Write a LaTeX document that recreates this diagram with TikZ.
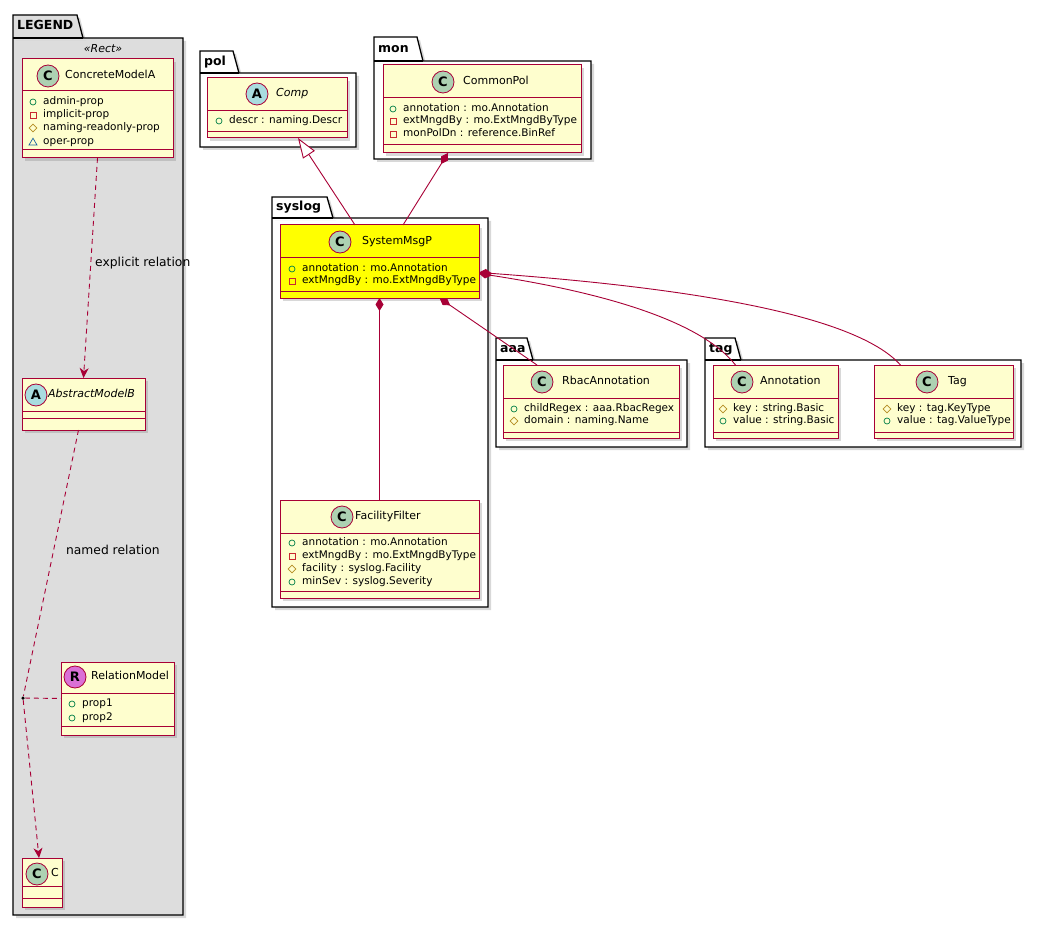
\documentclass[tikz,border=0pt]{standalone}
\usepackage{fontspec}
\setmainfont{DejaVu Sans}
\usetikzlibrary{arrows.meta,shadows}
\definecolor{umlred}{HTML}{A80036}
\definecolor{clsfill}{HTML}{FEFECE}
\definecolor{cgreen}{HTML}{ADD1B2}
\definecolor{ablue}{HTML}{A9DCDF}
\definecolor{rpink}{HTML}{DA70D6}
\definecolor{pkggray}{HTML}{DDDDDD}
\definecolor{pubgreen}{HTML}{038048}
\definecolor{privred}{HTML}{C82930}
\definecolor{protgold}{HTML}{B38D22}
\definecolor{pkgblue}{HTML}{1963A0}
\definecolor{hilite}{HTML}{FFFF00}

% package: name, x0, tab top, tab right, tab bottom, x1, y1, fill, title
\newcommand{\umlpkg}[9]{%
  \draw[pkgframe, fill=#8] (#2,#3) -- (#4,#3) -- ({#4+6},#5) -- (#6,#5) -- (#6,#7) -- (#2,#7) -- cycle;
  \draw[pkgframe] (#2,#5) -- ({#4+6},#5);
  \node[pkgtitle] (#1) at ({#2+4},{(#3+#5)/2}) {#9};
}
% class box: name, x1, y1, x2, y2, header rule, method rule, fill
\newcommand{\umlcls}[8]{%
  \node[clsbox, fill=#8, minimum width={#4-#2}, minimum height={#5-#3}] (#1) at (#2,#3) {};
  \draw[clsrule] (#2,#6) -- (#4,#6);
  \draw[clsrule] (#2,#7) -- (#4,#7);
}
% class header: prefix, badge x, y, letter, badge colour, title x, title
\newcommand{\umlhead}[7]{%
  \node[badge, fill=#5] (#1b) at (#2,#3) {#4};
  \node[clsname] (#1t) at (#6,#3) {#7};
}
% attributes: name, icon x, y, text
\newcommand{\apub}[4]{%
  \draw[pubgreen, line width=0.7pt] (#2,#3) circle[radius=3pt];
  \node[attrtext] (#1) at ({#2+10},#3) {#4};
}
\newcommand{\apriv}[4]{%
  \draw[privred, line width=0.7pt] ({#2-3},{#3-3}) rectangle ({#2+3},{#3+3});
  \node[attrtext] (#1) at ({#2+10},#3) {#4};
}
\newcommand{\aprot}[4]{%
  \draw[protgold, line width=0.7pt] (#2,{#3-3.8}) -- ({#2+3.8},#3) -- (#2,{#3+3.8}) -- ({#2-3.8},#3) -- cycle;
  \node[attrtext] (#1) at ({#2+10},#3) {#4};
}
\newcommand{\apkg}[4]{%
  \draw[pkgblue, line width=0.7pt] (#2,{#3-3.8}) -- ({#2+4},{#3+3}) -- ({#2-4},{#3+3}) -- cycle;
  \node[attrtext] (#1) at ({#2+10},#3) {#4};
}

\begin{document}
\begin{tikzpicture}[x=1pt, y=-1pt,
  pkgframe/.style={draw=black, line width=1.3pt,
    drop shadow={shadow xshift=3pt, shadow yshift=-3pt, opacity=0.3}},
  pkgtitle/.style={anchor=west, inner sep=0, text height=9pt, text depth=2.5pt,
    font=\bfseries\fontsize{12.5}{14}\selectfont},
  clsbox/.style={draw=umlred, line width=1pt, rectangle, anchor=north west,
    inner sep=0, outer sep=0,
    drop shadow={shadow xshift=3pt, shadow yshift=-3pt, opacity=0.3}},
  clsrule/.style={draw=umlred, line width=1pt},
  badge/.style={circle, draw=umlred, line width=0.8pt, minimum size=22pt, inner sep=0,
    font=\bfseries\fontsize{13}{13}\selectfont},
  clsname/.style={anchor=west, inner sep=0, text height=8pt, text depth=2.3pt,
    font=\fontsize{11}{13}\selectfont},
  attrtext/.style={anchor=west, inner sep=0, text height=7.5pt, text depth=2pt,
    font=\fontsize{10.5}{12}\selectfont},
  stereo/.style={inner sep=0, font=\itshape\fontsize{11}{13}\selectfont},
  lbl/.style={inner sep=0, anchor=west, text=black, font=\fontsize{12.3}{14}\selectfont},
  dep/.style={umlred, line width=0.9pt, dash pattern=on 5pt off 4pt,
    -{Stealth[length=10pt, width=9pt, inset=3pt]}},
  depline/.style={umlred, line width=0.9pt, dash pattern=on 5pt off 4pt},
  inherit/.style={umlred, line width=0.9pt,
    -{Triangle[length=20pt, width=14pt, fill=white]}},
  compo/.style={umlred, line width=0.9pt, {Diamond[length=13pt, width=8pt]}-}
]
\fill[white] (0,0) rectangle (1041,925);
\useasboundingbox (0,0) rectangle (1041,925);

% packages
\umlpkg{legend}{13}{15}{77}{38}{183}{915}{pkggray}{LEGEND}
\node[stereo] (rectst) at (103,49) {«Rect»};
\umlpkg{pol}{200}{51}{233}{73}{356}{147}{white}{pol}
\umlpkg{mon}{374}{37}{417}{61}{591}{159}{white}{mon}
\umlpkg{syslog}{272}{197}{327}{218}{488}{607}{white}{syslog}
\umlpkg{aaa}{496}{338}{527}{360}{687}{447}{white}{aaa}
\umlpkg{tag}{705}{338}{735}{360}{1021}{447}{white}{tag}

% legend classes
\umlcls{concrete}{22}{59}{173}{158}{91}{150}{clsfill}
\umlhead{concrete}{48}{76}{C}{cgreen}{65}{ConcreteModelA}
\apub{ca1}{33}{102}{admin-prop}
\apriv{ca2}{33}{115}{implicit-prop}
\aprot{ca3}{33}{128}{naming-readonly-prop}
\apkg{ca4}{33}{142}{oper-prop}

\umlcls{abstract}{22}{378}{145}{430}{411}{418}{clsfill}
\umlhead{abstract}{36}{395}{A}{ablue}{48}{\itshape AbstractModelB}

\umlcls{relmodel}{61}{662}{174}{735}{693}{726}{clsfill}
\umlhead{relmodel}{75}{677}{R}{rpink}{91}{RelationModel}
\apub{rm1}{72}{704}{prop1}
\apub{rm2}{72}{718}{prop2}

\umlcls{cnode}{22}{858}{62}{907}{886}{898}{clsfill}
\umlhead{cnode}{37}{874}{C}{cgreen}{51}{C}

% model classes
\umlcls{comp}{207}{78}{347}{138}{111}{132}{clsfill}
\umlhead{comp}{257}{94}{A}{ablue}{276}{\itshape Comp}
\apub{cp1}{219}{121}{descr : naming.Descr}

\umlcls{commonpol}{383}{65}{581}{153}{98}{145}{clsfill}
\umlhead{commonpol}{443}{82}{C}{cgreen}{463}{CommonPol}
\apub{cm1}{393}{109}{annotation : mo.Annotation}
\apriv{cm2}{393}{121}{extMngdBy : mo.ExtMngdByType}
\apriv{cm3}{393}{134}{monPolDn : reference.BinRef}

\umlcls{sysmsg}{280}{225}{479}{298}{258}{292}{hilite}
\umlhead{sysmsg}{340}{242}{C}{cgreen}{362}{SystemMsgP}
\apub{sm1}{292}{269}{annotation : mo.Annotation}
\apriv{sm2}{292}{281}{extMngdBy : mo.ExtMngdByType}

\umlcls{facfilter}{280}{500}{479}{598}{533}{591}{clsfill}
\umlhead{facfilter}{342}{517}{C}{cgreen}{355}{FacilityFilter}
\apub{ff1}{292}{543}{annotation : mo.Annotation}
\apriv{ff2}{292}{556}{extMngdBy : mo.ExtMngdByType}
\aprot{ff3}{292}{569}{facility : syslog.Facility}
\apub{ff4}{292}{582}{minSev : syslog.Severity}

\umlcls{rbac}{503}{365}{679}{438}{398}{432}{clsfill}
\umlhead{rbac}{542}{382}{C}{cgreen}{562}{RbacAnnotation}
\apub{ra1}{514}{409}{childRegex : aaa.RbacRegex}
\aprot{ra2}{514}{421}{domain : naming.Name}

\umlcls{annot}{713}{365}{838}{438}{398}{432}{clsfill}
\umlhead{annot}{742}{382}{C}{cgreen}{760}{Annotation}
\aprot{an1}{723}{409}{key : string.Basic}
\apub{an2}{723}{421}{value : string.Basic}

\umlcls{tagcls}{874}{365}{1013}{438}{398}{432}{clsfill}
\umlhead{tagcls}{927}{382}{C}{cgreen}{948}{Tag}
\aprot{tg1}{887}{409}{key : tag.KeyType}
\apub{tg2}{887}{421}{value : tag.ValueType}

% relations
\node[circle, fill=black, inner sep=0, minimum size=3.5pt] (reldot) at (23,698) {};
\draw[dep] (concrete.south) -- node[lbl, pos=0.48, xshift=4pt] {explicit relation} (abstract.north);
\draw[depline] ([xshift=-5pt]abstract.south) -- node[lbl, pos=0.45, xshift=12pt] {named relation} (reldot);
\draw[depline] (reldot) -- (relmodel.west);
\draw[dep] (reldot) -- ([xshift=-3pt]cnode.north);

\draw[inherit] ([xshift=-24.5pt]sysmsg.north) -- ([xshift=21pt]comp.south);
\draw[compo] ([xshift=-34pt]commonpol.south) -- ([xshift=23.5pt]sysmsg.north);
\draw[compo] (sysmsg.south) -- (facfilter.north);
\draw[compo] ([xshift=60pt]sysmsg.south) -- ([xshift=-54pt]rbac.north);
\draw[compo] ([yshift=-12pt]sysmsg.east) .. controls (600,292) and (700,320) .. ([xshift=-40pt]annot.north);
\draw[compo] ([yshift=-11pt]sysmsg.east) .. controls (720,290) and (860,320) .. ([xshift=-43pt]tagcls.north);
\end{tikzpicture}
\end{document}
